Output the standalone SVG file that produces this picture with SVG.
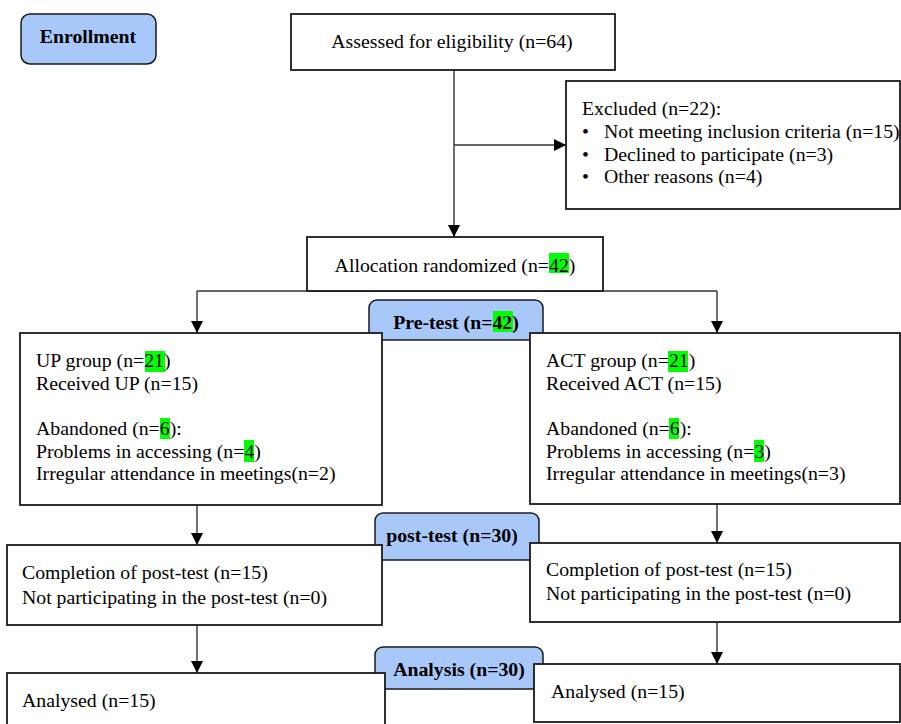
<svg xmlns="http://www.w3.org/2000/svg" width="901" height="724" viewBox="0 0 901 724">
<defs>
<marker id="arr" viewBox="0 0 12 12" refX="12" refY="6" markerWidth="12" markerHeight="12" markerUnits="userSpaceOnUse" orient="auto">
<path d="M0,0 L12,6 L0,12 Z" fill="#000"/>
</marker>
</defs>
<style>
.box{fill:#fff;stroke:#1a1a1a;stroke-width:1.8}
.tab{fill:#a9c8fa;stroke:#1a1a1a;stroke-width:1.5}
.t{font-family:"Liberation Serif","Times New Roman",serif;font-size:19.8px;fill:#000}
.b{font-family:"Liberation Serif","Times New Roman",serif;font-size:19.8px;font-weight:bold;fill:#000}
.hl{fill:#00ff00}
.c{fill:none;stroke:#333;stroke-width:1.4}
</style>
<g id="enrollment">
<rect class="tab" x="21" y="14" width="135" height="50" rx="9"/>
<text class="b" x="88" y="43" text-anchor="middle">Enrollment</text>
</g>
<g id="connectors">
<line class="c" x1="454" y1="70" x2="454" y2="237" marker-end="url(#arr)"/>
<line class="c" x1="454" y1="145" x2="566" y2="145" marker-end="url(#arr)"/>
<line class="c" x1="197" y1="291" x2="717" y2="291"/>
<line class="c" x1="197" y1="291" x2="197" y2="333" marker-end="url(#arr)"/>
<line class="c" x1="717" y1="291" x2="717" y2="333" marker-end="url(#arr)"/>
<line class="c" x1="197" y1="505" x2="197" y2="545" marker-end="url(#arr)"/>
<line class="c" x1="717" y1="504" x2="717" y2="543" marker-end="url(#arr)"/>
<line class="c" x1="197" y1="625" x2="197" y2="673" marker-end="url(#arr)"/>
<line class="c" x1="717" y1="622" x2="717" y2="664" marker-end="url(#arr)"/>
</g>
<g id="assessed">
<rect class="box" x="291" y="14" width="324" height="56"/>
<text class="t" x="452" y="48" text-anchor="middle">Assessed for eligibility (n=64)</text>
</g>
<g id="excluded">
<rect class="box" x="566" y="81" width="334" height="128"/>
<text class="t" x="582" y="115">Excluded (n=22):</text>
<text class="t" x="582" y="138">•</text>
<text class="t" x="604" y="138">Not meeting inclusion criteria (n=15)</text>
<text class="t" x="582" y="160.5">•</text>
<text class="t" x="604" y="160.5">Declined to participate (n=3)</text>
<text class="t" x="582" y="183">•</text>
<text class="t" x="604" y="183">Other reasons (n=4)</text>
</g>
<g id="allocation">
<rect class="box" x="307" y="237" width="296" height="54"/>
<rect class="hl" x="549" y="253" width="20" height="20"/>
<text class="t" x="455" y="272" text-anchor="middle">Allocation randomized (n=42)</text>
</g>
<g id="pretest">
<rect class="tab" x="369" y="300" width="174" height="40" rx="8"/>
<rect class="hl" x="493" y="311" width="20" height="21"/>
<text class="b" x="456" y="329" text-anchor="middle">Pre-test (n=42)</text>
</g>
<g id="posttest">
<rect class="tab" x="375" y="513" width="164" height="47" rx="8"/>
<text class="b" x="452" y="542" text-anchor="middle">post-test (n=30)</text>
</g>
<g id="analysis">
<rect class="tab" x="375" y="647" width="168" height="42" rx="8"/>
<text class="b" x="459" y="676" text-anchor="middle">Analysis (n=30)</text>
</g>
<g id="up-group">
<rect class="box" x="20" y="333" width="362" height="172"/>
<rect class="hl" x="145" y="351" width="20" height="21"/>
<rect class="hl" x="160" y="418" width="10" height="21"/>
<rect class="hl" x="244" y="440" width="10" height="22"/>
<text class="t" x="36" y="367">UP group (n=21)</text>
<text class="t" x="36" y="389.5">Received UP (n=15)</text>
<text class="t" x="36" y="435">Abandoned (n=6):</text>
<text class="t" x="36" y="457.5">Problems in accessing (n=4)</text>
<text class="t" x="36" y="480">Irregular attendance in meetings(n=2)</text>
</g>
<g id="act-group">
<rect class="box" x="530" y="333" width="370" height="171"/>
<rect class="hl" x="668" y="351" width="20" height="21"/>
<rect class="hl" x="669" y="418" width="10" height="21"/>
<rect class="hl" x="754" y="440" width="10" height="22"/>
<text class="t" x="546" y="367">ACT group (n=21)</text>
<text class="t" x="546" y="389.5">Received ACT (n=15)</text>
<text class="t" x="546" y="435">Abandoned (n=6):</text>
<text class="t" x="546" y="457.5">Problems in accessing (n=3)</text>
<text class="t" x="546" y="480">Irregular attendance in meetings(n=3)</text>
</g>
<g id="up-post">
<rect class="box" x="7" y="545" width="375" height="80"/>
<text class="t" x="22" y="579">Completion of post-test (n=15)</text>
<text class="t" x="22" y="604">Not participating in the post-test (n=0)</text>
</g>
<g id="act-post">
<rect class="box" x="530" y="543" width="370" height="79"/>
<text class="t" x="546" y="576">Completion of post-test (n=15)</text>
<text class="t" x="546" y="600">Not participating in the post-test (n=0)</text>
</g>
<g id="up-analysed">
<rect class="box" x="7" y="673" width="378" height="60"/>
<text class="t" x="22" y="707">Analysed (n=15)</text>
</g>
<g id="act-analysed">
<rect class="box" x="534" y="664" width="366" height="58"/>
<text class="t" x="551" y="698">Analysed (n=15)</text>
</g>
</svg>
